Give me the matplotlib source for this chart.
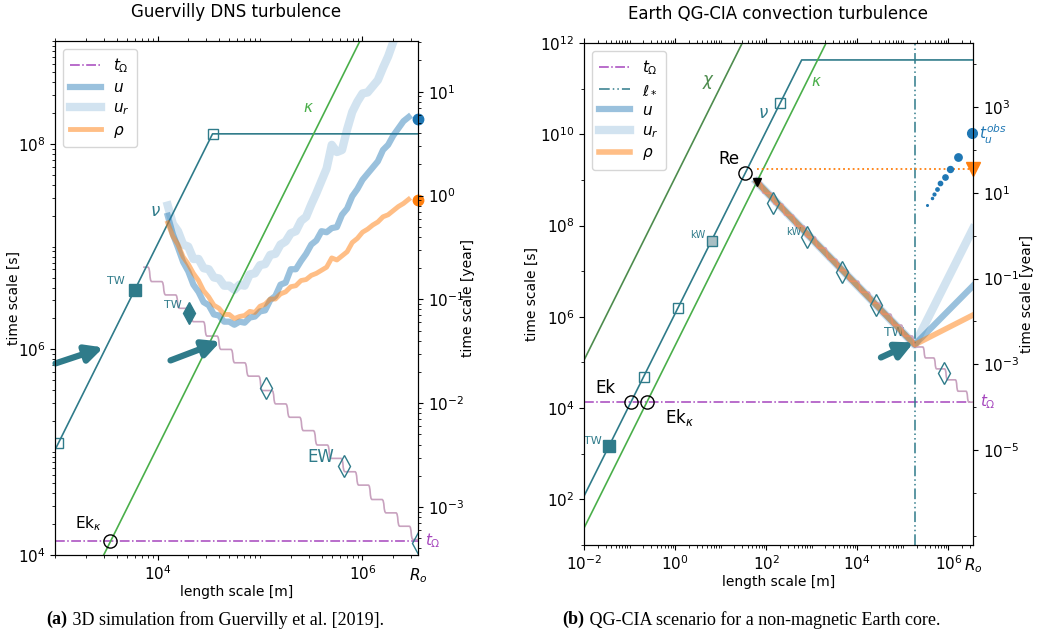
import numpy as np
import matplotlib
matplotlib.use("Agg")
import matplotlib.pyplot as plt
from matplotlib.path import Path
from matplotlib.patches import PathPatch
from matplotlib.ticker import LogLocator, FixedLocator, NullFormatter
from matplotlib.transforms import blended_transform_factory

R_O = 3.48e6          # m, core radius
T_OMEGA = 1.37e4      # s

# ---------------- panel (a): Guervilly DNS, all values are log10 ----------------
a_grid = [4.10, 4.15, 4.20, 4.25, 4.30, 4.35, 4.40, 4.45, 4.50, 4.55, 4.60, 4.65,
          4.70, 4.75, 4.80, 4.85, 4.90, 4.95, 5.00, 5.05, 5.10, 5.15, 5.20, 5.25,
          5.30, 5.35, 5.40, 5.45, 5.50, 5.55, 5.60, 5.65, 5.70, 5.75, 5.80, 5.85,
          5.90, 5.95, 6.00, 6.05, 6.10, 6.15, 6.20, 6.25, 6.30, 6.35, 6.40, 6.45]
a_ur = [7.40, 7.22, 7.15, 7.02, 7.00, 6.88, 6.88, 6.79, 6.78, 6.70, 6.69, 6.62,
        6.62, 6.58, 6.63, 6.62, 6.73, 6.74, 6.82, 6.83, 6.92, 6.93, 7.02, 7.05,
        7.13, 7.15, 7.25, 7.29, 7.41, 7.52, 7.64, 7.76, 7.99, 7.92, 7.94, 8.14,
        8.31, 8.41, 8.49, 8.50, 8.56, 8.62, 8.74, 8.85, 8.99, 9.10, 9.20, 9.30]
a_u = [7.30, 7.12, 6.99, 6.85, 6.76, 6.63, 6.56, 6.46, 6.43, 6.34, 6.33, 6.27,
       6.27, 6.24, 6.27, 6.26, 6.31, 6.32, 6.37, 6.38, 6.48, 6.52, 6.63, 6.65,
       6.78, 6.78, 6.86, 6.93, 7.02, 7.06, 7.15, 7.14, 7.18, 7.19, 7.31, 7.37,
       7.49, 7.56, 7.65, 7.71, 7.77, 7.83, 7.94, 7.99, 8.08, 8.15, 8.22, 8.26]
a_rho = [7.23, 7.10, 7.02, 6.90, 6.83, 6.74, 6.67, 6.57, 6.51, 6.43, 6.40, 6.34,
         6.34, 6.30, 6.32, 6.33, 6.37, 6.36, 6.42, 6.44, 6.49, 6.49, 6.54, 6.56,
         6.61, 6.62, 6.67, 6.68, 6.72, 6.74, 6.77, 6.80, 6.89, 6.87, 6.91, 6.95,
         7.04, 7.08, 7.14, 7.17, 7.21, 7.24, 7.29, 7.31, 7.35, 7.39, 7.42, 7.46]

a_nu_l, a_nu_t = [3.0, 4.537, 6.55], [5.023, 8.097, 8.097]
a_kappa_l, a_kappa_t = [3.0, 6.0], [3.05, 9.05]
a_stair_l = [3.86, 3.99, 4.13, 4.26, 4.40, 4.53, 4.67, 4.80, 4.94, 5.07, 5.20,
             5.34, 5.47, 5.61, 5.74, 5.88, 6.01, 6.14, 6.28, 6.41, 6.54]
a_stair_t = [6.80, 6.66, 6.53, 6.40, 6.27, 6.13, 6.00, 5.87, 5.74, 5.60, 5.47,
             5.34, 5.21, 5.07, 4.94, 4.81, 4.68, 4.54, 4.41, 4.28, 4.15]
a_open_sq_l, a_open_sq_t = [3.034, 4.537], [5.09, 8.097]
a_tw_sq = (3.776, 6.575)
a_tw_dia = (4.312, 6.359)
a_ew_l, a_ew_t = [5.054, 5.815, 6.54], [5.621, 4.864, 4.12]
a_ekk = (3.54, 4.137)
a_end_u, a_end_rho = 8.24, 7.45
a_arrows = [((3.005, 5.864), (3.473, 6.019)), ((4.127, 5.893), (4.615, 6.078))]
a_year_lim = (-3.462, 1.488)

# ---------------- panel (b): Earth QG-CIA scenario, log10 ----------------
b_nu_l, b_nu_t = [-2.0, 2.78, 6.55], [2.07, 11.63, 11.63]
b_kappa_l, b_kappa_t = [-2.0, 3.5], [1.37, 12.37]
b_chi_l, b_chi_t = [-2.0, 3.6], [5.05, 16.25]
b_turb_l = [1.79, 5.26, 6.54]
b_u = [8.96, 5.39, 6.68]
b_ur = [8.96, 5.39, 7.93]
b_rho = [8.96, 5.39, 6.04]
b_lstar = 5.26
b_stair_l = [1.79, 2.03, 2.27, 2.50, 2.74, 2.98, 3.22, 3.45, 3.69, 3.93, 4.17,
             4.40, 4.64, 4.88, 5.12, 5.35, 5.59, 5.83, 6.07, 6.30, 6.54]
b_stair_t = [8.95, 8.71, 8.47, 8.23, 7.99, 7.75, 7.51, 7.26, 7.02, 6.78, 6.54,
             6.30, 6.06, 5.82, 5.58, 5.34, 5.10, 4.86, 4.62, 4.37, 4.13]
b_open_sq_l, b_open_sq_t = [-0.69, 0.06, 2.31], [4.69, 6.19, 10.69]
b_kw_sq = (0.80, 7.67)
b_tw_sq = (-1.45, 3.17)
b_ek, b_ekk = (-0.97, 4.13), (-0.62, 4.13)
b_re = (1.545, 9.16)
b_tri = (1.79, 8.96)
b_rho_obs = 9.24
b_dia_l = [2.14, 2.90, 3.67, 4.41, 5.90]
b_dia_t = [8.50, 7.75, 6.99, 6.25, 4.76]
b_obs_l = [5.534, 5.630, 5.681, 5.740, 5.827, 5.921, 6.046, 6.212, 6.519]
b_obs_t = [8.455, 8.602, 8.696, 8.799, 8.930, 9.061, 9.243, 9.499, 10.03]
b_obs_ms = [1.2, 1.5, 2.0, 2.4, 3.1, 3.8, 4.3, 5.3, 7.0]
b_arrow = ((4.52, 5.11), (5.24, 5.44))
b_year_lim = (-7.21, 4.49)

TEAL = "#2f7b8a"
GREEN = "#4aaf4a"
DGREEN = "#4e8c4e"
PURPLE = "#a545bd"
PINK = "#c8a2bf"
C_U = (0.122, 0.467, 0.706, 0.45)
C_UR = (0.122, 0.467, 0.706, 0.2)
C_RHO = (1.0, 0.498, 0.055, 0.5)


def p(v):
    return 10 ** np.asarray(v, dtype=float)


def stairs(ax, lev_l, lev_t, z=2):
    verts, codes = [], []
    n = len(lev_l)
    for k in range(n):
        s = lev_l[k + 1] - lev_l[k] if k < n - 1 else lev_l[k] - lev_l[k - 1]
        a = lev_l[k] - 0.35 * s if k else lev_l[0]
        b = lev_l[k] + 0.35 * s
        if k == 0:
            verts.append((a, lev_t[k]))
            codes.append(Path.MOVETO)
        verts.append((b, lev_t[k]))
        codes.append(Path.LINETO)
        if k < n - 1:
            c = lev_l[k + 1] - 0.35 * s
            w = c - b
            verts += [(b + 0.7 * w, lev_t[k]), (c - 0.7 * w, lev_t[k + 1]), (c, lev_t[k + 1])]
            codes += [Path.CURVE4] * 3
    ax.add_patch(PathPatch(Path(p(verts), codes), fc="none", ec=PINK, lw=1.2, zorder=z))


def setup(ax, xlim, ylim, ylim_year, xmaj, ymaj, rmaj, yminor_subs, lab_l, lab_r):
    ax.set_xscale("log")
    ax.set_yscale("log")
    ax.set_xlim(xlim)
    ax.set_ylim(ylim)
    ax.xaxis.set_major_locator(FixedLocator(xmaj))
    ax.xaxis.set_minor_locator(LogLocator(10, subs=np.arange(1, 10), numticks=100))
    ax.xaxis.set_minor_formatter(NullFormatter())
    ax.yaxis.set_major_locator(FixedLocator(ymaj))
    ax.yaxis.set_minor_locator(LogLocator(10, subs=yminor_subs, numticks=100))
    ax.yaxis.set_minor_formatter(NullFormatter())
    ax.tick_params(which="both", top=True, labelsize=11)
    ax.set_xlabel("length scale [m]", fontsize=10, labelpad=1)
    ax.set_ylabel("time scale [s]", fontsize=10)
    ax.yaxis.set_label_coords(lab_l, 0.5)
    ax2 = ax.twinx()
    ax2.set_yscale("log")
    ax2.set_ylim(p(ylim_year))
    ax2.yaxis.set_major_locator(FixedLocator(rmaj))
    ax2.yaxis.set_minor_locator(LogLocator(10, subs=yminor_subs, numticks=100))
    ax2.yaxis.set_minor_formatter(NullFormatter())
    ax2.tick_params(which="both", labelsize=11)
    ax2.set_ylabel("time scale [year]", fontsize=10)
    ax2.yaxis.set_label_coords(lab_r, 0.5)
    # R_o label at right end of x axis, t_Omega label at right
    bt = blended_transform_factory(ax.transData, ax.transAxes)
    ax.annotate("$R_o$", xy=(R_O, 0), xycoords=bt, xytext=(0, -8), textcoords="offset points",
                ha="center", va="top", fontsize=11, annotation_clip=False)
    rt = blended_transform_factory(ax.transAxes, ax.transData)
    ax.annotate(r"$t_\Omega$", xy=(1, T_OMEGA), xycoords=rt, xytext=(5, 0), textcoords="offset points",
                ha="left", va="center", fontsize=11, color=PURPLE, annotation_clip=False)
    return ax2


def arrow(ax, start, tip):
    ax.annotate("", xy=p(tip), xytext=p(start),
                arrowprops=dict(arrowstyle="-|>,head_length=0.5,head_width=0.25", lw=4.5,
                                color=TEAL, shrinkA=0, shrinkB=0, mutation_scale=20),
                zorder=6, annotation_clip=False)


fig = plt.figure(figsize=(10.38, 6.37), dpi=100)
axa = fig.add_axes([0.053, 0.1287, 0.3497, 0.8069])
axb = fig.add_axes([0.5626, 0.1444, 0.3748, 0.788])

# ======================= panel (a) =======================
ax = axa
ax.set_title("Guervilly DNS turbulence", fontsize=12, pad=17)
ax.axhline(T_OMEGA, color=PURPLE, ls="-.", lw=1.1, label=r"$t_\Omega$", zorder=2)
ax.plot(p(a_nu_l), p(a_nu_t), color=TEAL, lw=1.2, zorder=3)
ax.plot(p(a_kappa_l), p(a_kappa_t), color=GREEN, lw=1.2, zorder=3)
stairs(ax, a_stair_l, a_stair_t)
ax.plot(p(a_grid), p(a_u), color=C_U, lw=4.5, label="$u$", zorder=4)
ax.plot(p(a_grid), p(a_ur), color=C_UR, lw=6, label="$u_r$", zorder=3.5)
ax.plot(p(a_grid), p(a_rho), color=C_RHO, lw=3.5, label=r"$\rho$", zorder=4.5)
ax.plot(p(a_open_sq_l), p(a_open_sq_t), "s", ms=7, mfc="none", mec=TEAL, mew=1, zorder=5)
ax.plot(*p(a_tw_sq), "s", ms=8.5, color=TEAL, zorder=5)
ax.plot(*p(a_tw_dia), "d", ms=11, color=TEAL, zorder=5)
ax.plot(p(a_ew_l), p(a_ew_t), "d", ms=11, mfc="none", mec=TEAL, mew=1, zorder=5)
ax.plot(*p(a_ekk), "o", ms=9.5, mfc="none", mec="k", mew=1, zorder=5)
ax.plot(R_O, 10 ** a_end_u, "o", ms=7.5, color="C0", clip_on=False, zorder=7)
ax.plot(R_O, 10 ** a_end_rho, "o", ms=7.5, color="C1", clip_on=False, zorder=7)
for s_, t_ in a_arrows:
    arrow(ax, s_, t_)
ax.text(10 ** 3.98, 10 ** 7.35, r"$\nu$", color=TEAL, fontsize=12, ha="center", va="center")
ax.text(10 ** 5.473, 10 ** 8.35, r"$\kappa$", color=GREEN, fontsize=11, ha="center", va="center")
ax.text(10 ** 3.59, 10 ** 6.67, "TW", color=TEAL, fontsize=8, ha="center", va="center")
ax.text(10 ** 4.146, 10 ** 6.43, "TW", color=TEAL, fontsize=8, ha="center", va="center")
ax.text(10 ** 5.59, 10 ** 4.95, "EW", color=TEAL, fontsize=12, ha="center", va="center")
ax.text(10 ** 3.327, 10 ** 4.31, r"Ek$_\kappa$", color="k", fontsize=11, ha="center", va="center")
ax.legend(loc="upper left", fontsize=11, handlelength=2.0, labelspacing=0.35, borderpad=0.5)
setup(ax, (1e3, R_O), (1e4, 1e9), a_year_lim, [1e4, 1e6], [1e4, 1e6, 1e8],
      [1e-3, 1e-2, 1e-1, 1e0, 1e1], np.arange(1, 10), -0.094, 1.118)

# ======================= panel (b) =======================
ax = axb
ax.set_title("Earth QG-CIA convection turbulence", fontsize=12, pad=17)
ax.axhline(T_OMEGA, color=PURPLE, ls="-.", lw=1.1, label=r"$t_\Omega$", zorder=2)
ax.axvline(10 ** b_lstar, color=TEAL, ls=(0, (7, 2, 1, 2, 1, 2)), lw=1.1, label=r"$\ell_*$", zorder=2)
ax.plot(p(b_chi_l), p(b_chi_t), color=DGREEN, lw=1.2, zorder=3)
ax.plot(p(b_nu_l), p(b_nu_t), color=TEAL, lw=1.2, zorder=3)
ax.plot(p(b_kappa_l), p(b_kappa_t), color=GREEN, lw=1.2, zorder=3)
ax.plot(p(b_turb_l), p(b_u), color=C_U, lw=4.5, label="$u$", zorder=4)
ax.plot(p(b_turb_l), p(b_ur), color=C_UR, lw=6, label="$u_r$", zorder=3.5)
ax.plot(p(b_turb_l), p(b_rho), color=C_RHO, lw=4, label=r"$\rho$", zorder=4.5)
stairs(ax, b_stair_l, b_stair_t, z=4.2)
ax.plot([10 ** b_tri[0], R_O], [10 ** b_rho_obs] * 2, color="C1", ls=":", lw=1.3, zorder=3)
ax.plot(R_O, 10 ** b_rho_obs, "v", ms=10, color="C1", clip_on=False, zorder=7)
for l_, t_, ms_ in zip(b_obs_l, b_obs_t, b_obs_ms):
    ax.plot(10 ** l_, 10 ** t_, "o", ms=ms_, color="C0", clip_on=False, zorder=7)
ax.plot(p(b_open_sq_l), p(b_open_sq_t), "s", ms=7, mfc="none", mec=TEAL, mew=1, zorder=5)
ax.plot(*p(b_kw_sq), "s", ms=7, mfc="#a9bfc4", mec=TEAL, mew=1, zorder=5)
ax.plot(*p(b_tw_sq), "s", ms=8.5, color=TEAL, zorder=5)
ax.plot(p(b_dia_l), p(b_dia_t), "d", ms=11, mfc="none", mec=TEAL, mew=1, zorder=5)
ax.plot(*p(b_ek), "o", ms=9.5, mfc="none", mec="k", mew=1, zorder=5)
ax.plot(*p(b_ekk), "o", ms=9.5, mfc="none", mec="k", mew=1, zorder=5)
ax.plot(*p(b_re), "o", ms=9.5, mfc="none", mec="k", mew=1, zorder=5)
ax.plot(*p(b_tri), "v", ms=6, color="k", zorder=6)
arrow(ax, *b_arrow)
ax.text(10 ** 0.735, 10 ** 11.15, r"$\chi$", color=DGREEN, fontsize=12, ha="center", va="center")
ax.text(10 ** 3.10, 10 ** 11.15, r"$\kappa$", color=GREEN, fontsize=11, ha="center", va="center")
ax.text(10 ** 1.94, 10 ** 10.47, r"$\nu$", color=TEAL, fontsize=12, ha="center", va="center")
ax.text(10 ** 0.49, 10 ** 7.80, "kW", color=TEAL, fontsize=7, ha="center", va="center")
ax.text(10 ** 2.60, 10 ** 7.86, "kW", color=TEAL, fontsize=7, ha="center", va="center")
ax.text(10 ** -1.80, 10 ** 3.29, "TW", color=TEAL, fontsize=8, ha="center", va="center")
ax.text(10 ** 4.81, 10 ** 5.65, "TW", color=TEAL, fontsize=9, ha="center", va="center")
ax.text(10 ** 1.19, 10 ** 9.45, "Re", color="k", fontsize=12, ha="center", va="center")
ax.text(10 ** -1.52, 10 ** 4.45, "Ek", color="k", fontsize=12, ha="center", va="center")
ax.text(10 ** 0.10, 10 ** 3.79, r"Ek$_\kappa$", color="k", fontsize=12, ha="center", va="center")
rt = blended_transform_factory(ax.transAxes, ax.transData)
ax.annotate(r"$t_u^{obs}$", xy=(1, 10 ** 10.0), xycoords=rt, xytext=(4, 0), textcoords="offset points",
            ha="left", va="center", fontsize=11, color="C0", annotation_clip=False)
ax.legend(loc="upper left", fontsize=11, handlelength=2.0, labelspacing=0.35, borderpad=0.5)
setup(ax, (1e-2, R_O), (1e1, 1e12), b_year_lim, [1e-2, 1e0, 1e2, 1e4, 1e6],
      [1e2, 1e4, 1e6, 1e8, 1e10, 1e12], [1e-5, 1e-3, 1e-1, 1e1, 1e3], [1.0], -0.116, 1.121)

# ======================= captions =======================
SERIF = "Liberation Serif"
for x0, tag, rest, host in [(0.045, "(a)", " 3D simulation from Guervilly et al. [2019].", axa),
                            (0.542, "(b)", " QG-CIA scenario for a non-magnetic Earth core.", axb)]:
    t = fig.text(x0, 0.027, tag, fontsize=13, family=SERIF, weight="bold", va="center")
    host.annotate(rest, xy=(1, 0.5), xycoords=t, va="center", ha="left", fontsize=13,
                  family=SERIF, annotation_clip=False)

fig.savefig("out.png", dpi=100)
